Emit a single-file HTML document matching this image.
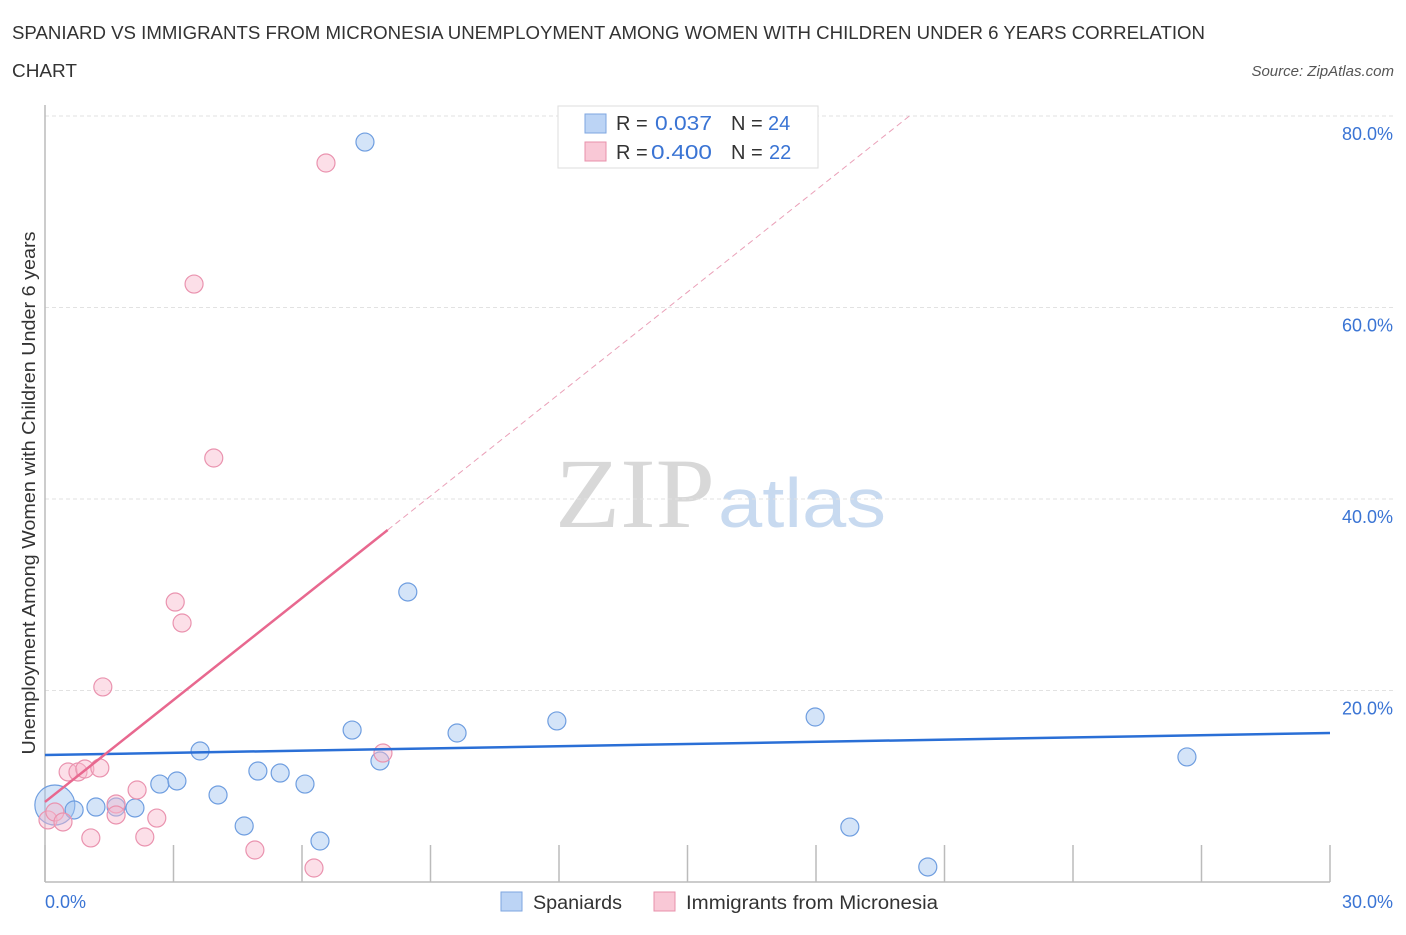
<!DOCTYPE html>
<html><head><meta charset="utf-8"><style>
body{margin:0;background:#fff;font-family:"Liberation Sans",sans-serif;}
svg text{font-family:"Liberation Sans",sans-serif;}
</style></head><body>
<svg id="c" width="1406" height="930" xmlns="http://www.w3.org/2000/svg">
<text x="12" y="39" font-size="18" fill="#333" textLength="1193" lengthAdjust="spacingAndGlyphs">SPANIARD VS IMMIGRANTS FROM MICRONESIA UNEMPLOYMENT AMONG WOMEN WITH CHILDREN UNDER 6 YEARS CORRELATION</text>
<text x="12" y="77" font-size="18" fill="#333" textLength="65" lengthAdjust="spacingAndGlyphs">CHART</text>
<text x="1394" y="76" font-size="15" fill="#555" font-style="italic" text-anchor="end">Source: ZipAtlas.com</text>
<text x="555" y="527" font-size="100" fill="#d8d8d8" textLength="160" lengthAdjust="spacingAndGlyphs" style="font-family:'Liberation Serif',serif">ZIP</text>
<text x="718" y="527" font-size="70" fill="#c8daf0" textLength="168" lengthAdjust="spacingAndGlyphs">atlas</text>
<g id="grid"></g><g id="marks"></g>
<text x="35" y="493" font-size="18" fill="#333" text-anchor="middle" textLength="523" lengthAdjust="spacingAndGlyphs" transform="rotate(-90 35 493)">Unemployment Among Women with Children Under 6 years</text>
<text x="45" y="908" font-size="18" fill="#3a74d4">0.0%</text>
<text x="1393" y="908" font-size="18" fill="#3a74d4" text-anchor="end">30.0%</text>
<g>
<rect x="558" y="106" width="260" height="62" fill="#fff" stroke="#ddd"/>
<rect x="585" y="114" width="21" height="19" fill="#bcd4f5" stroke="#7ea6e0"/>
<rect x="585" y="142" width="21" height="19" fill="#f9c8d6" stroke="#e890ab"/>
<text x="616" y="130" font-size="20" fill="#333">R = </text><text x="655" y="130" font-size="20" fill="#3a74d4" textLength="57" lengthAdjust="spacingAndGlyphs">0.037</text>
<text x="731" y="130" font-size="20" fill="#333">N = </text><text x="768" y="130" font-size="20" fill="#3a74d4">24</text>
<text x="616" y="159" font-size="20" fill="#333">R = </text><text x="651" y="159" font-size="20" fill="#3a74d4" textLength="61" lengthAdjust="spacingAndGlyphs">0.400</text>
<text x="731" y="159" font-size="20" fill="#333">N = </text><text x="769" y="159" font-size="20" fill="#3a74d4">22</text>
</g>
<g>
<rect x="501" y="892" width="21" height="19" fill="#bcd4f5" stroke="#7ea6e0"/>
<text x="533" y="909" font-size="19" fill="#333" textLength="89" lengthAdjust="spacingAndGlyphs">Spaniards</text>
<rect x="654" y="892" width="21" height="19" fill="#f9c8d6" stroke="#e890ab"/>
<text x="686" y="909" font-size="19" fill="#333" textLength="252" lengthAdjust="spacingAndGlyphs">Immigrants from Micronesia</text>
</g>
</svg>
<script>
const blueX=[0.23,0.68,1.19,1.66,2.10,2.68,3.08,3.62,4.04,4.65,4.97,5.49,6.07,6.42,7.17,7.47,7.82,8.47,9.62,11.95,17.98,18.79,20.61,26.66];
const blueY=[8.04,7.52,7.83,7.83,7.73,10.23,10.55,13.68,9.09,5.85,11.59,11.38,10.23,4.28,15.87,77.28,12.64,30.29,15.56,16.82,17.23,5.74,1.57,13.06];
const pinkX=[0.07,0.23,0.42,0.54,0.77,0.93,1.07,1.28,1.35,1.66,1.66,2.15,2.33,2.61,3.04,3.20,3.48,3.94,4.90,6.28,6.56,7.89];
const pinkY=[6.48,7.31,6.27,11.49,11.49,11.80,4.60,11.91,20.37,8.15,7.00,9.61,4.70,6.68,29.24,27.05,62.45,44.28,3.34,1.46,75.09,13.47];
const yTicks=[20,40,60,80];
const xTicks=[0,3,6,9,12,15,18,21,24,27,30];
const blueTrend=[13.26,15.56];
const pinkTrend=[8.36,3.55];
const NS="http://www.w3.org/2000/svg";
const X=v=>45+v*1285/30, Y=v=>882-v*191.5/20;
function mk(t,a,p){const e=document.createElementNS(NS,t);for(const k in a)e.setAttribute(k,a[k]);p.appendChild(e);return e;}
const g=document.getElementById('grid'),m=document.getElementById('marks');
yTicks.forEach(t=>{
 const l=mk('line',{x1:45,x2:1394,y1:Y(t),y2:Y(t),stroke:'#e2e2e2','stroke-dasharray':'4 3'},g);
 
 
 const tx=mk('text',{x:1393,y:Y(t)+24,'font-size':18,fill:'#3a74d4','text-anchor':'end'},g);tx.textContent=t.toFixed(1)+'%';
 
 
});
const ax=mk('line',{x1:45,x2:1330,y1:882,y2:882,stroke:'#bbb','stroke-width':1.5},g);


const ay=mk('line',{x1:45,x2:45,y1:105,y2:882,stroke:'#bbb','stroke-width':1.5},g);


xTicks.forEach(t=>{const l=mk('line',{x1:X(t),x2:X(t),y1:845,y2:882,stroke:'#bbb','stroke-width':1.5},g);
 
 });
blueX.forEach((x,i)=>{const c=mk('circle',{cx:X(x),cy:Y(blueY[i]),r:i==0?20:9,fill:'rgba(160,195,240,0.45)',stroke:'#6f9ee0','stroke-width':1.2},m);
 
 });
pinkX.forEach((x,i)=>{const c=mk('circle',{cx:X(x),cy:Y(pinkY[i]),r:9,fill:'rgba(248,185,205,0.45)',stroke:'#ea93af','stroke-width':1.2},m);
 
 });
const bt=mk('line',{x1:X(0),x2:X(30),y1:Y(blueTrend[0]),y2:Y(blueTrend[1]),stroke:'#2a6fd6','stroke-width':2.5},m);


const pe=(80.2-pinkTrend[0])/pinkTrend[1];
const pd=mk('line',{x1:X(8),x2:X(pe),y1:Y(pinkTrend[0]+pinkTrend[1]*8),y2:Y(80.2),stroke:'#eaa0b8','stroke-width':1,'stroke-dasharray':'6 4'},m);


const ps=mk('line',{x1:X(0),x2:X(8),y1:Y(pinkTrend[0]),y2:Y(pinkTrend[0]+pinkTrend[1]*8),stroke:'#e8688f','stroke-width':2.5},m);


</script>
</body></html>
